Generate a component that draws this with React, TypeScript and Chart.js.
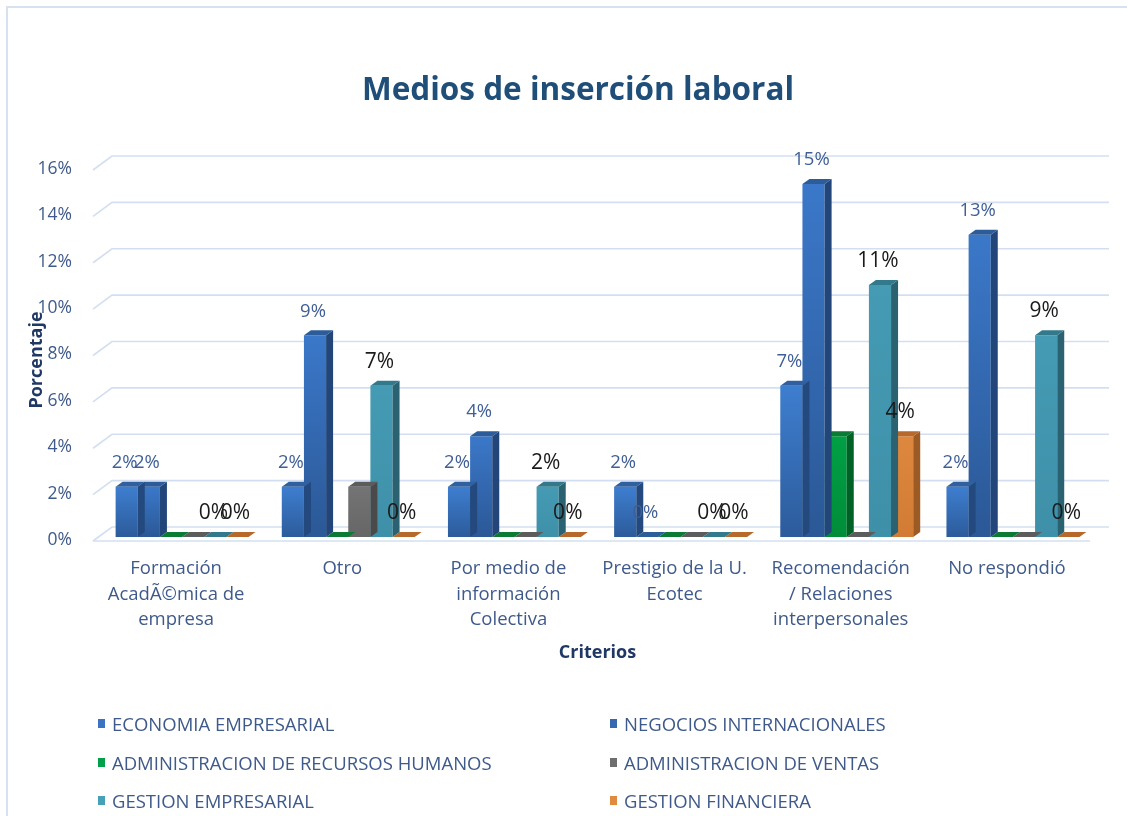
import React, { useEffect, useRef } from 'react';
import { Chart, registerables } from 'chart.js';

Chart.register(...registerables);

// ---------- data ----------
const categories: string[][] = [
  ['Formación', 'AcadÃ©mica de', 'empresa'],
  ['Otro'],
  ['Por medio de', 'información', 'Colectiva'],
  ['Prestigio de la U.', 'Ecotec'],
  ['Recomendación', '/ Relaciones', 'interpersonales'],
  ['No respondió'],
];

const seriesNames = [
  'ECONOMIA EMPRESARIAL',
  'NEGOCIOS INTERNACIONALES',
  'ADMINISTRACION DE RECURSOS HUMANOS',
  'ADMINISTRACION DE VENTAS',
  'GESTION EMPRESARIAL',
  'GESTION FINANCIERA',
];

const economiaEmpresarial = [2.17, 2.17, 2.17, 2.17, 6.52, 2.17];
const negociosInternacionales = [2.17, 8.7, 4.35, 0, 15.22, 13.04];
const adminRecursosHumanos = [0, 0, 0, 0, 4.35, 0];
const adminVentas = [0, 2.17, 0, 0, 0, 0];
const gestionEmpresarial = [0, 6.52, 2.17, 0, 10.87, 8.7];
const gestionFinanciera = [0, 0, 0, 0, 4.35, 0];

const seriesValues = [
  economiaEmpresarial,
  negociosInternacionales,
  adminRecursosHumanos,
  adminVentas,
  gestionEmpresarial,
  gestionFinanciera,
];

const yTickValues = [0, 2, 4, 6, 8, 10, 12, 14, 16];

// ---------- styles ----------
const FONT = '"Open Sans", Lato, sans-serif';
const TICK_COLOR = '#3F5A8A';
const AXIS_TITLE_COLOR = '#1F3864';

type SeriesStyle = { front: [string, string]; side: string; top: string; legend: string; label: string | null; labelSize: number };
const seriesStyles: SeriesStyle[] = [
  { front: ['#3E7ECF', '#2C5B9B'], side: '#23497E', top: '#30609F', legend: '#3A73C2', label: '#3F5F96', labelSize: 18.5 },
  { front: ['#3B78C9', '#2B5896'], side: '#22467A', top: '#2D5C9A', legend: '#3569B0', label: '#3F5F96', labelSize: 18.5 },
  { front: ['#00A045', '#008D3A'], side: '#006127', top: '#0A7A35', legend: '#00A04A', label: null, labelSize: 18 },
  { front: ['#747474', '#666666'], side: '#4A4A4A', top: '#5C5C5C', legend: '#6E6E6E', label: null, labelSize: 18 },
  { front: ['#459BB4', '#3E90A8'], side: '#2A6271', top: '#32798C', legend: '#45A0B8', label: '#1A1A1A', labelSize: 21 },
  { front: ['#DD873F', '#D27B34'], side: '#9C5A24', top: '#B6692B', legend: '#E08A40', label: '#1A1A1A', labelSize: 21 },
];

const DX = 7;
const DY = 5;

const threeDPlugin = {
  id: 'threeD',
  beforeDatasetsDraw(chart: any) {
    const { ctx, chartArea, scales } = chart;
    const y = scales.y;
    const { left, right } = chartArea;
    ctx.save();
    ctx.strokeStyle = '#D3DFF1';
    ctx.lineWidth = 1.6;
    for (const v of yTickValues) {
      const yp = y.getPixelForValue(v);
      ctx.beginPath();
      ctx.moveTo(left - 6, yp + 4);
      ctx.lineTo(left + 13, yp - 10);
      ctx.lineTo(right + 13, yp - 10);
      ctx.stroke();
    }
    const y0 = y.getPixelForValue(0);
    ctx.beginPath();
    ctx.moveTo(left - 6, y0 + 4);
    ctx.lineTo(right - 6, y0 + 4);
    ctx.stroke();
    ctx.restore();
  },
  afterDatasetDraw(chart: any, args: any) {
    const { ctx } = chart;
    const st = seriesStyles[args.index];
    ctx.save();
    args.meta.data.forEach((bar: any) => {
      const { x, y, base, width } = bar.getProps(['x', 'y', 'base', 'width'], true);
      const x0 = x - width / 2;
      const x1 = x + width / 2;
      if (base - y > 0.5) {
        ctx.fillStyle = st.side;
        ctx.beginPath();
        ctx.moveTo(x1, y);
        ctx.lineTo(x1 + DX, y - DY);
        ctx.lineTo(x1 + DX, base - DY);
        ctx.lineTo(x1, base);
        ctx.closePath();
        ctx.fill();
      }
      ctx.fillStyle = st.top;
      ctx.beginPath();
      ctx.moveTo(x0, y);
      ctx.lineTo(x0 + DX, y - DY);
      ctx.lineTo(x1 + DX, y - DY);
      ctx.lineTo(x1, y);
      ctx.closePath();
      ctx.fill();
    });
    ctx.restore();
  },
  afterDatasetsDraw(chart: any) {
    const { ctx } = chart;
    ctx.save();
    ctx.textAlign = 'center';
    ctx.textBaseline = 'middle';
    chart.data.datasets.forEach((ds: any, i: number) => {
      const st = seriesStyles[i];
      if (!st.label) return;
      const meta = chart.getDatasetMeta(i);
      ctx.fillStyle = st.label;
      ctx.font = `${st.labelSize}px ${FONT}`;
      meta.data.forEach((bar: any, j: number) => {
        const { x, y } = bar.getProps(['x', 'y'], true);
        ctx.fillText(Math.round(ds.data[j]) + '%', x - 2, y - 24);
      });
    });
    ctx.restore();
  },
  afterDraw(chart: any) {
    const { ctx } = chart;
    ctx.save();
    ctx.fillStyle = '#1F4E79';
    ctx.font = `bold 31.5px ${FONT}`;
    ctx.textAlign = 'center';
    ctx.textBaseline = 'middle';
    ctx.fillText('Medios de inserción laboral', 578, 91);
    ctx.restore();

    // vertical axis title
    ctx.save();
    ctx.translate(37, 360);
    ctx.rotate(-Math.PI / 2);
    ctx.fillStyle = AXIS_TITLE_COLOR;
    ctx.font = `bold 18px ${FONT}`;
    ctx.textAlign = 'center';
    ctx.textBaseline = 'middle';
    ctx.fillText('Porcentaje', 0, 0);
    ctx.restore();
  },
};

export default function App() {
  const canvasRef = useRef<HTMLCanvasElement | null>(null);

  useEffect(() => {
    document.body.style.margin = '0';
    const canvas = canvasRef.current;
    if (!canvas) return;
    const chart = new Chart(canvas, {
      type: 'bar',
      data: {
        labels: categories,
        datasets: seriesValues.map((vals, i) => ({
          label: seriesNames[i],
          data: vals,
          borderWidth: 0,
          categoryPercentage: 0.8,
          barPercentage: 1,
          backgroundColor: (c: any) => {
            const st = seriesStyles[i];
            const ch = c.chart;
            if (!ch.chartArea || c.type !== 'data' || !ch.scales.y) return st.front[0];
            const ys = ch.scales.y;
            const v = c.parsed ? c.parsed.y : 0;
            const top = ys.getPixelForValue(v);
            const bot = ys.getPixelForValue(0);
            if (bot - top < 1) return st.front[1];
            const g = ch.ctx.createLinearGradient(0, top, 0, bot);
            g.addColorStop(0, st.front[0]);
            g.addColorStop(1, st.front[1]);
            return g;
          },
        })),
      },
      options: {
        responsive: false,
        animation: false,
        layout: { padding: { left: 0, right: 31, top: 166, bottom: 129 } },
        plugins: {
          legend: { display: false },
          title: { display: false },
          tooltip: { enabled: false },
        },
        scales: {
          x: {
            type: 'category',
            offset: true,
            grid: { display: false, drawTicks: false },
            border: { display: false },
            ticks: {
              color: TICK_COLOR,
              font: { family: FONT, size: 18.5, lineHeight: 1.38 },
              padding: 19,
              labelOffset: -6,
              maxRotation: 0,
              autoSkip: false,
            },
            title: {
              display: true,
              text: 'Criterios',
              color: AXIS_TITLE_COLOR,
              font: { family: FONT, size: 18, weight: 'bold', lineHeight: 1.2 },
              padding: { top: 0, bottom: 23 },
            },
            afterFit: (scale: any) => {
              scale.height = 150;
            },
          },
          y: {
            min: 0,
            max: 16,
            grid: { display: false, drawTicks: false },
            border: { display: false },
            ticks: {
              stepSize: 2,
              color: TICK_COLOR,
              font: { family: FONT, size: 17.5 },
              padding: 27,
              labelOffset: 3,
              callback: (v: any) => v + '%',
            },
            title: { display: false },
            afterFit: (scale: any) => {
              scale.width = 99;
            },
          },
        },
      } as any,
      plugins: [threeDPlugin],
    });
    return () => chart.destroy();
  }, []);

  const legendRows = [[0, 1], [2, 3], [4, 5]];
  const rowY = [723, 762, 800];
  const colX = [98, 610];

  return (
    <div style={{ position: 'relative', width: 1127, height: 816, overflow: 'hidden', background: '#fff' }}>
      <div
        style={{
          position: 'absolute',
          left: 6,
          top: 6,
          width: 1127,
          height: 816,
          borderTop: '2px solid #D7E1EF',
          borderLeft: '2px solid #D7E1EF',
          boxSizing: 'border-box',
        }}
      />
      <canvas ref={canvasRef} width={1127} height={816} style={{ position: 'absolute', left: 0, top: 0, display: 'block' }} />
      {legendRows.map((row, r) =>
        row.map((si, c) => (
          <div
            key={si}
            style={{
              position: 'absolute',
              left: colX[c],
              top: rowY[r] - 12,
              height: 24,
              display: 'flex',
              alignItems: 'center',
              fontFamily: FONT,
              fontSize: 18.5,
              color: TICK_COLOR,
              whiteSpace: 'nowrap',
            }}
          >
            <span style={{ display: 'inline-block', width: 7, height: 9, background: seriesStyles[si].legend, marginRight: 7 }} />
            {seriesNames[si]}
          </div>
        ))
      )}
    </div>
  );
}
